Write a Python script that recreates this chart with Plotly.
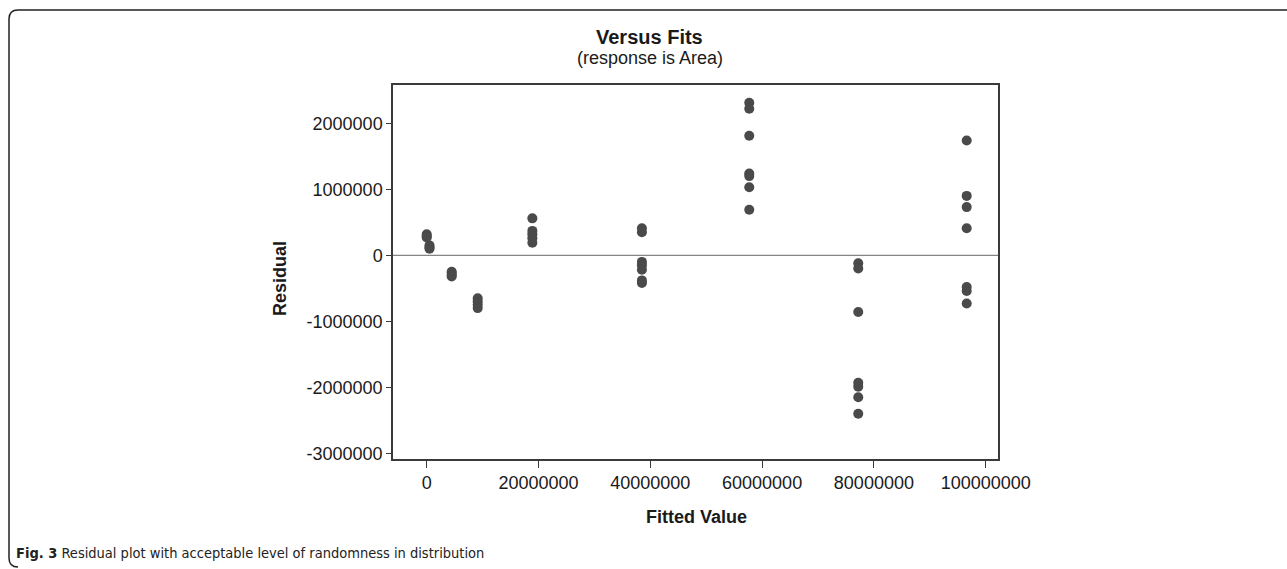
import plotly.graph_objects as go

# Data (fitted value, residual)
fits_c1 = [0, 0, 0, 500000, 500000, 500000]
res_c1 = [320000, 290000, 270000, 150000, 120000, 100000]
fits_c2 = [4470000, 4470000, 4470000, 4470000]
res_c2 = [-250000, -270000, -300000, -320000]
fits_c3 = [9120000, 9120000, 9120000, 9120000]
res_c3 = [-650000, -700000, -750000, -800000]
fits_c4 = [18900000] * 5
res_c4 = [560000, 370000, 320000, 260000, 190000]
fits_c5 = [38500000] * 7
res_c5 = [410000, 350000, -100000, -150000, -220000, -380000, -420000]
fits_c6 = [57700000] * 7
res_c6 = [2310000, 2220000, 1810000, 1240000, 1200000, 1030000, 690000]
fits_c7 = [77200000] * 7
res_c7 = [-120000, -200000, -860000, -1930000, -1990000, -2150000, -2400000]
fits_c8 = [96600000] * 7
res_c8 = [1740000, 900000, 730000, 410000, -480000, -540000, -730000]

fitted = fits_c1 + fits_c2 + fits_c3 + fits_c4 + fits_c5 + fits_c6 + fits_c7 + fits_c8
residual = res_c1 + res_c2 + res_c3 + res_c4 + res_c5 + res_c6 + res_c7 + res_c8

x_ticks = [0, 20000000, 40000000, 60000000, 80000000, 100000000]
y_ticks = [-3000000, -2000000, -1000000, 0, 1000000, 2000000]

FONT = "Liberation Sans, Arial, sans-serif"
CAPFONT = "Liberation Sans Narrow, DejaVu Sans Condensed, sans-serif"

W, H = 1287, 569
L, R, T, B = 393, 289, 85, 110
pw, ph = W - L - R, H - T - B


def px(x):
    return (x - L) / pw


def py(y):
    return (H - B - y) / ph


fig = go.Figure()
fig.add_trace(go.Scatter(
    x=fitted, y=residual, mode="markers",
    marker=dict(color="#4a4a4a", size=10, line=dict(width=0)),
    showlegend=False, hoverinfo="x+y",
))

# zero reference line
fig.add_shape(type="line", xref="paper", x0=0, x1=1, yref="y", y0=0, y1=0,
              line=dict(color="#858585", width=1.3), layer="below")

# outer rounded frame (open to the right)
r = 9
path = (f"M {px(1300)} {py(10)} L {px(9 + r)} {py(10)} "
        f"Q {px(9)} {py(10)} {px(9)} {py(10 + r)} "
        f"L {px(9)} {py(567 - r)} Q {px(9)} {py(567)} {px(9 + r)} {py(567)}")
fig.add_shape(type="path", xref="paper", yref="paper", path=path,
              line=dict(color="#222", width=1.5))

fig.update_layout(
    width=W, height=H,
    margin=dict(l=L, r=R, t=T, b=B),
    paper_bgcolor="white", plot_bgcolor="white",
    font=dict(family=FONT, size=18, color="#111"),
    xaxis=dict(
        range=[-6030000, 102200000], tickvals=x_ticks,
        ticktext=[str(v) for v in x_ticks],
        showgrid=False, zeroline=False, showline=True, mirror=True,
        linecolor="#3a3a3a", linewidth=1.5, ticks="outside", ticklen=7,
        tickcolor="#3a3a3a", tickfont=dict(size=18, family=FONT, color="#1a1a1a"),
    ),
    yaxis=dict(
        range=[-3086000, 2580000], tickvals=y_ticks,
        ticktext=[str(v) for v in y_ticks],
        showgrid=False, zeroline=False, showline=True, mirror=True,
        linecolor="#3a3a3a", linewidth=1.5, ticks="outside", ticklen=5,
        tickcolor="#3a3a3a", tickfont=dict(size=18, family=FONT, color="#1a1a1a"),
    ),
    annotations=[
        dict(text="<b>Versus Fits</b>", xref="paper", yref="paper", x=px(649), y=py(37),
             showarrow=False, font=dict(size=20, family=FONT, color="#1a1a1a"),
             xanchor="center", yanchor="middle"),
        dict(text="(response is Area)", xref="paper", yref="paper", x=px(650), y=py(58),
             showarrow=False, font=dict(size=18, family=FONT, color="#1a1a1a"),
             xanchor="center", yanchor="middle"),
        dict(text="<b>Fitted Value</b>", xref="paper", yref="paper", x=px(696), y=py(517),
             showarrow=False, font=dict(size=18, family=FONT, color="#1a1a1a"),
             xanchor="center", yanchor="middle"),
        dict(text="<b>Residual</b>", xref="paper", yref="paper", x=px(280), y=py(279),
             showarrow=False, textangle=-90, font=dict(size=18, family=FONT, color="#1a1a1a"),
             xanchor="center", yanchor="middle"),
        dict(text="<b>Fig. 3</b> Residual plot with acceptable level of randomness in distribution",
             xref="paper", yref="paper", x=px(14), y=py(553),
             showarrow=False, font=dict(size=14.5, family=CAPFONT, color="#222"),
             xanchor="left", yanchor="middle"),
    ],
)

fig.write_html("out.html", config={"displayModeBar": False},
               post_script="document.body.style.margin='0';document.body.style.overflow='hidden';")
